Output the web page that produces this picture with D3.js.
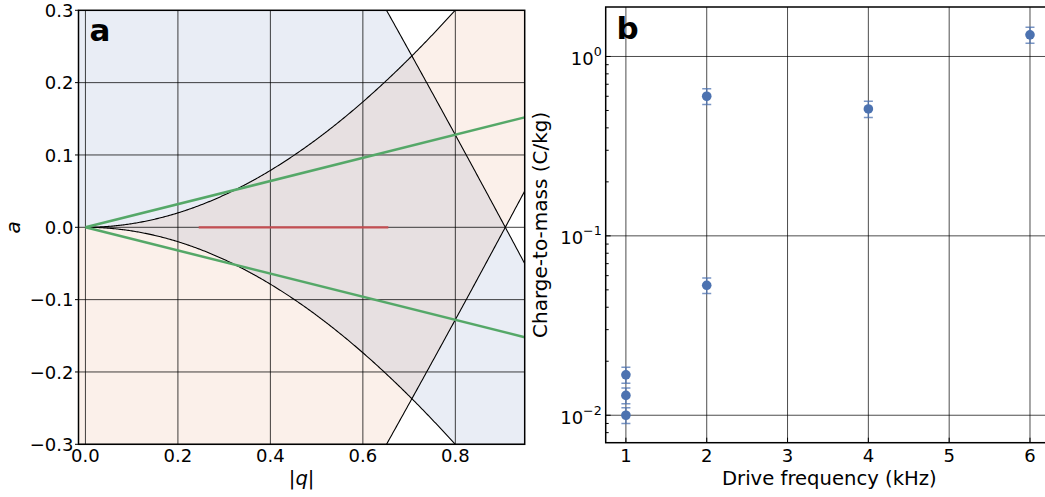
<!DOCTYPE html>
<html>
<head>
<meta charset="utf-8">
<script src="https://cdn.jsdelivr.net/npm/d3@7"></script>
<style>
  body { margin: 0; background: #fff; }
  svg { display: block; }
  text { font-family: 'DejaVu Sans', sans-serif; fill: #000; }
</style>
</head>
<body>
<svg id="fig" width="1045" height="497"></svg>
<script>
// ---------- Panel a: Mathieu stability diagram ----------
const qTicks = [0, 0.2, 0.4, 0.6, 0.8];
const aTicks = [-0.3, -0.2, -0.1, 0, 0.1, 0.2, 0.3];
// Series expansions of the Mathieu characteristic values, as [coefficient, power of q]
const a0Coeffs = [[-1 / 2, 2], [7 / 128, 4], [-29 / 2304, 6], [68687 / 18874368, 8]];
const b1Coeffs = [[1, 0], [-1, 1], [-1 / 8, 2], [1 / 64, 3], [-1 / 1536, 4],
                  [-11 / 36864, 5], [49 / 589824, 6], [-55 / 9437184, 7]];
// Operating lines through the origin (end points)
const opLineQ = [0, 0.95];
const opLineA = [0, 0.152];
// Scanned range of |q| at a = 0
const scanQ = [0.245, 0.655];
const scanA = [0, 0];

// ---------- Panel b: measured charge-to-mass ratios ----------
const driveFreq = [1, 1, 1, 2, 2, 4, 6];            // kHz
const chargeToMass = [0.0168, 0.0129, 0.0100, 0.053, 0.60, 0.51, 1.32]; // C/kg
const chargeErr = [0.0017, 0.0013, 0.0010, 0.0053, 0.06, 0.053, 0.135];
const freqTicks = [1, 2, 3, 4, 5, 6];
const ratioTicks = [0.01, 0.1, 1];
const ratioTickExp = ["\u22122", "\u22121", "0"];

const svg = d3.select("#fig");
const poly = coeffs => q => d3.sum(coeffs, ([c, p]) => c * Math.pow(q, p));
const a0 = poly(a0Coeffs);
const b1 = poly(b1Coeffs);

const tickBaseline = 461.5;
const titleBaseline = 484.5;

// ===== Panel a =====
const A = { left: 78.5, right: 524.7, top: 10.3, bottom: 444.3 };
const xA = d3.scaleLinear().domain([-0.015, 0.95]).range([A.left, A.right]);
const yA = d3.scaleLinear().domain([-0.3, 0.3]).range([A.bottom, A.top]);

svg.append("clipPath").attr("id", "clipA")
  .append("rect").attr("x", A.left).attr("y", A.top)
  .attr("width", A.right - A.left).attr("height", A.bottom - A.top);

const gA = svg.append("g");
const plotA = gA.append("g").attr("clip-path", "url(#clipA)");

const qFill = d3.range(-0.015, 0.9501, 0.0025);
const qCurve = d3.range(0, 0.9501, 0.0025);

// x-direction stable band: a0 < a < b1
plotA.append("path")
  .attr("d", d3.area().x(q => xA(q)).y0(q => yA(a0(q))).y1(q => yA(b1(q)))(qFill))
  .attr("fill", "#4c72b0").attr("fill-opacity", 0.125);
// y-direction stable band: -b1 < a < -a0
plotA.append("path")
  .attr("d", d3.area().x(q => xA(q)).y0(q => yA(-b1(q))).y1(q => yA(-a0(q)))(qFill))
  .attr("fill", "#dd8452").attr("fill-opacity", 0.12);

// grid
plotA.selectAll(".gx").data(qTicks).join("line")
  .attr("x1", d => xA(d)).attr("x2", d => xA(d))
  .attr("y1", A.top).attr("y2", A.bottom)
  .attr("stroke", "#000").attr("stroke-opacity", 0.75).attr("stroke-width", 1);
plotA.selectAll(".gy").data(aTicks).join("line")
  .attr("x1", A.left).attr("x2", A.right)
  .attr("y1", d => yA(d)).attr("y2", d => yA(d))
  .attr("stroke", "#000").attr("stroke-opacity", 0.75).attr("stroke-width", 1);

// stability boundaries
const boundaries = [q => a0(q), q => -a0(q), q => b1(q), q => -b1(q)];
boundaries.forEach(f => {
  plotA.append("path")
    .attr("d", d3.line().x(q => xA(q)).y(q => yA(f(q)))(qCurve))
    .attr("fill", "none").attr("stroke", "#000").attr("stroke-width", 1.1);
});

// operating lines
[1, -1].forEach(s => {
  plotA.append("path")
    .attr("d", d3.line()(opLineQ.map((q, i) => [xA(q), yA(s * opLineA[i])])))
    .attr("fill", "none").attr("stroke", "#55a868").attr("stroke-width", 2.5);
});
// scanned range
plotA.append("path")
  .attr("d", d3.line()(scanQ.map((q, i) => [xA(q), yA(scanA[i])])))
  .attr("fill", "none").attr("stroke", "#c44e52").attr("stroke-width", 2.2);

// frame
gA.append("rect").attr("x", A.left).attr("y", A.top)
  .attr("width", A.right - A.left).attr("height", A.bottom - A.top)
  .attr("fill", "none").attr("stroke", "#000").attr("stroke-width", 1.5);

// ticks and tick labels
const fmtA = d => (d < 0 ? "\u2212" : "") + Math.abs(d).toFixed(1);
gA.selectAll(".ty").data(aTicks).join("line")
  .attr("x1", A.left - 3.5).attr("x2", A.left)
  .attr("y1", d => yA(d)).attr("y2", d => yA(d))
  .attr("stroke", "#000").attr("stroke-width", 1);
gA.selectAll(".ly").data(aTicks).join("text")
  .attr("x", A.left - 5).attr("y", d => yA(d) + 6.8)
  .attr("text-anchor", "end").attr("font-size", 18).text(fmtA);
gA.selectAll(".lx").data(qTicks).join("text")
  .attr("x", d => xA(d)).attr("y", tickBaseline)
  .attr("text-anchor", "middle").attr("font-size", 18).text(fmtA);

// axis titles
const qLabel = gA.append("text").attr("x", (A.left + A.right) / 2).attr("y", titleBaseline)
  .attr("text-anchor", "middle").attr("font-size", 19.6);
qLabel.append("tspan").text("|");
qLabel.append("tspan").attr("font-style", "italic").text("q");
qLabel.append("tspan").text("|");
gA.append("text")
  .attr("transform", `translate(19.5,${(A.top + A.bottom) / 2}) rotate(-90)`)
  .attr("text-anchor", "middle").attr("font-size", 20).attr("font-style", "italic").text("a");

gA.append("text").attr("x", 89.5).attr("y", 40.5)
  .attr("font-size", 31).attr("font-weight", "bold").text("a");

// ===== Panel b =====
const B = { left: 605.7, right: 1050.2, top: 7, bottom: 442.7 };
const xB = d3.scaleLinear().domain([0.75, 6.25]).range([B.left, B.right]);
const yB = d3.scaleLog().domain([0.00703, 1.887]).range([B.bottom, B.top]);

svg.append("clipPath").attr("id", "clipB")
  .append("rect").attr("x", B.left).attr("y", B.top)
  .attr("width", B.right - B.left).attr("height", B.bottom - B.top);
const gB = svg.append("g");
const plotB = gB.append("g").attr("clip-path", "url(#clipB)");

// grid
plotB.selectAll(".gx").data(freqTicks).join("line")
  .attr("x1", d => xB(d)).attr("x2", d => xB(d))
  .attr("y1", B.top).attr("y2", B.bottom)
  .attr("stroke", "#000").attr("stroke-opacity", 0.7).attr("stroke-width", 1);
plotB.selectAll(".gy").data(ratioTicks).join("line")
  .attr("x1", B.left).attr("x2", B.right)
  .attr("y1", d => yB(d)).attr("y2", d => yB(d))
  .attr("stroke", "#000").attr("stroke-opacity", 0.7).attr("stroke-width", 1);

// error bars
const pts = driveFreq.map((f, i) => ({ f, v: chargeToMass[i], e: chargeErr[i] }));
const eb = plotB.selectAll(".eb").data(pts).join("g")
  .attr("stroke", "#4c72b0").attr("stroke-opacity", 0.75).attr("stroke-width", 1.5);
eb.append("line")
  .attr("x1", d => xB(d.f)).attr("x2", d => xB(d.f))
  .attr("y1", d => yB(d.v - d.e)).attr("y2", d => yB(d.v + d.e));
eb.append("line")
  .attr("x1", d => xB(d.f) - 4.5).attr("x2", d => xB(d.f) + 4.5)
  .attr("y1", d => yB(d.v - d.e)).attr("y2", d => yB(d.v - d.e));
eb.append("line")
  .attr("x1", d => xB(d.f) - 4.5).attr("x2", d => xB(d.f) + 4.5)
  .attr("y1", d => yB(d.v + d.e)).attr("y2", d => yB(d.v + d.e));
// markers
plotB.selectAll(".pt").data(pts).join("circle")
  .attr("cx", d => xB(d.f)).attr("cy", d => yB(d.v)).attr("r", 4.8)
  .attr("fill", "#4c72b0");

// frame
gB.append("rect").attr("x", B.left).attr("y", B.top)
  .attr("width", B.right - B.left).attr("height", B.bottom - B.top)
  .attr("fill", "none").attr("stroke", "#000").attr("stroke-width", 1.5);

// inward ticks: majors and log minors
const minorTicks = [];
[0.001, 0.01, 0.1, 1].forEach(p => d3.range(2, 10).forEach(m => {
  const v = p * m;
  if (v > yB.domain()[0] && v < yB.domain()[1]) minorTicks.push(v);
}));
gB.selectAll(".mt").data(minorTicks).join("line")
  .attr("x1", B.left).attr("x2", B.left + 3)
  .attr("y1", d => yB(d)).attr("y2", d => yB(d))
  .attr("stroke", "#000").attr("stroke-width", 1);
gB.selectAll(".Mt").data(ratioTicks).join("line")
  .attr("x1", B.left).attr("x2", B.left + 5)
  .attr("y1", d => yB(d)).attr("y2", d => yB(d))
  .attr("stroke", "#000").attr("stroke-width", 1);
gB.selectAll(".xt").data(freqTicks).join("line")
  .attr("x1", d => xB(d)).attr("x2", d => xB(d))
  .attr("y1", B.bottom).attr("y2", B.bottom - 5)
  .attr("stroke", "#000").attr("stroke-width", 1);

// tick labels
const yl = gB.selectAll(".ly").data(ratioTicks).join("text")
  .attr("x", B.left - 4).attr("y", d => yB(d) + 8.3)
  .attr("text-anchor", "end").attr("font-size", 18);
yl.append("tspan").text("10");
yl.append("tspan").attr("font-size", 12.6).attr("dy", -9)
  .text((d, i) => ratioTickExp[i]);
gB.selectAll(".lx").data(freqTicks).join("text")
  .attr("x", d => xB(d)).attr("y", tickBaseline)
  .attr("text-anchor", "middle").attr("font-size", 18).text(d => d);

// axis titles
gB.append("text").attr("x", (B.left + 1045) / 2 + 4).attr("y", titleBaseline)
  .attr("text-anchor", "middle").attr("font-size", 19.6).text("Drive frequency (kHz)");
gB.append("text")
  .attr("transform", `translate(546.5,${(B.top + B.bottom) / 2}) rotate(-90)`)
  .attr("text-anchor", "middle").attr("font-size", 20).text("Charge-to-mass (C/kg)");

gB.append("text").attr("x", 616.5).attr("y", 39)
  .attr("font-size", 31).attr("font-weight", "bold").text("b");
</script>
</body>
</html>
